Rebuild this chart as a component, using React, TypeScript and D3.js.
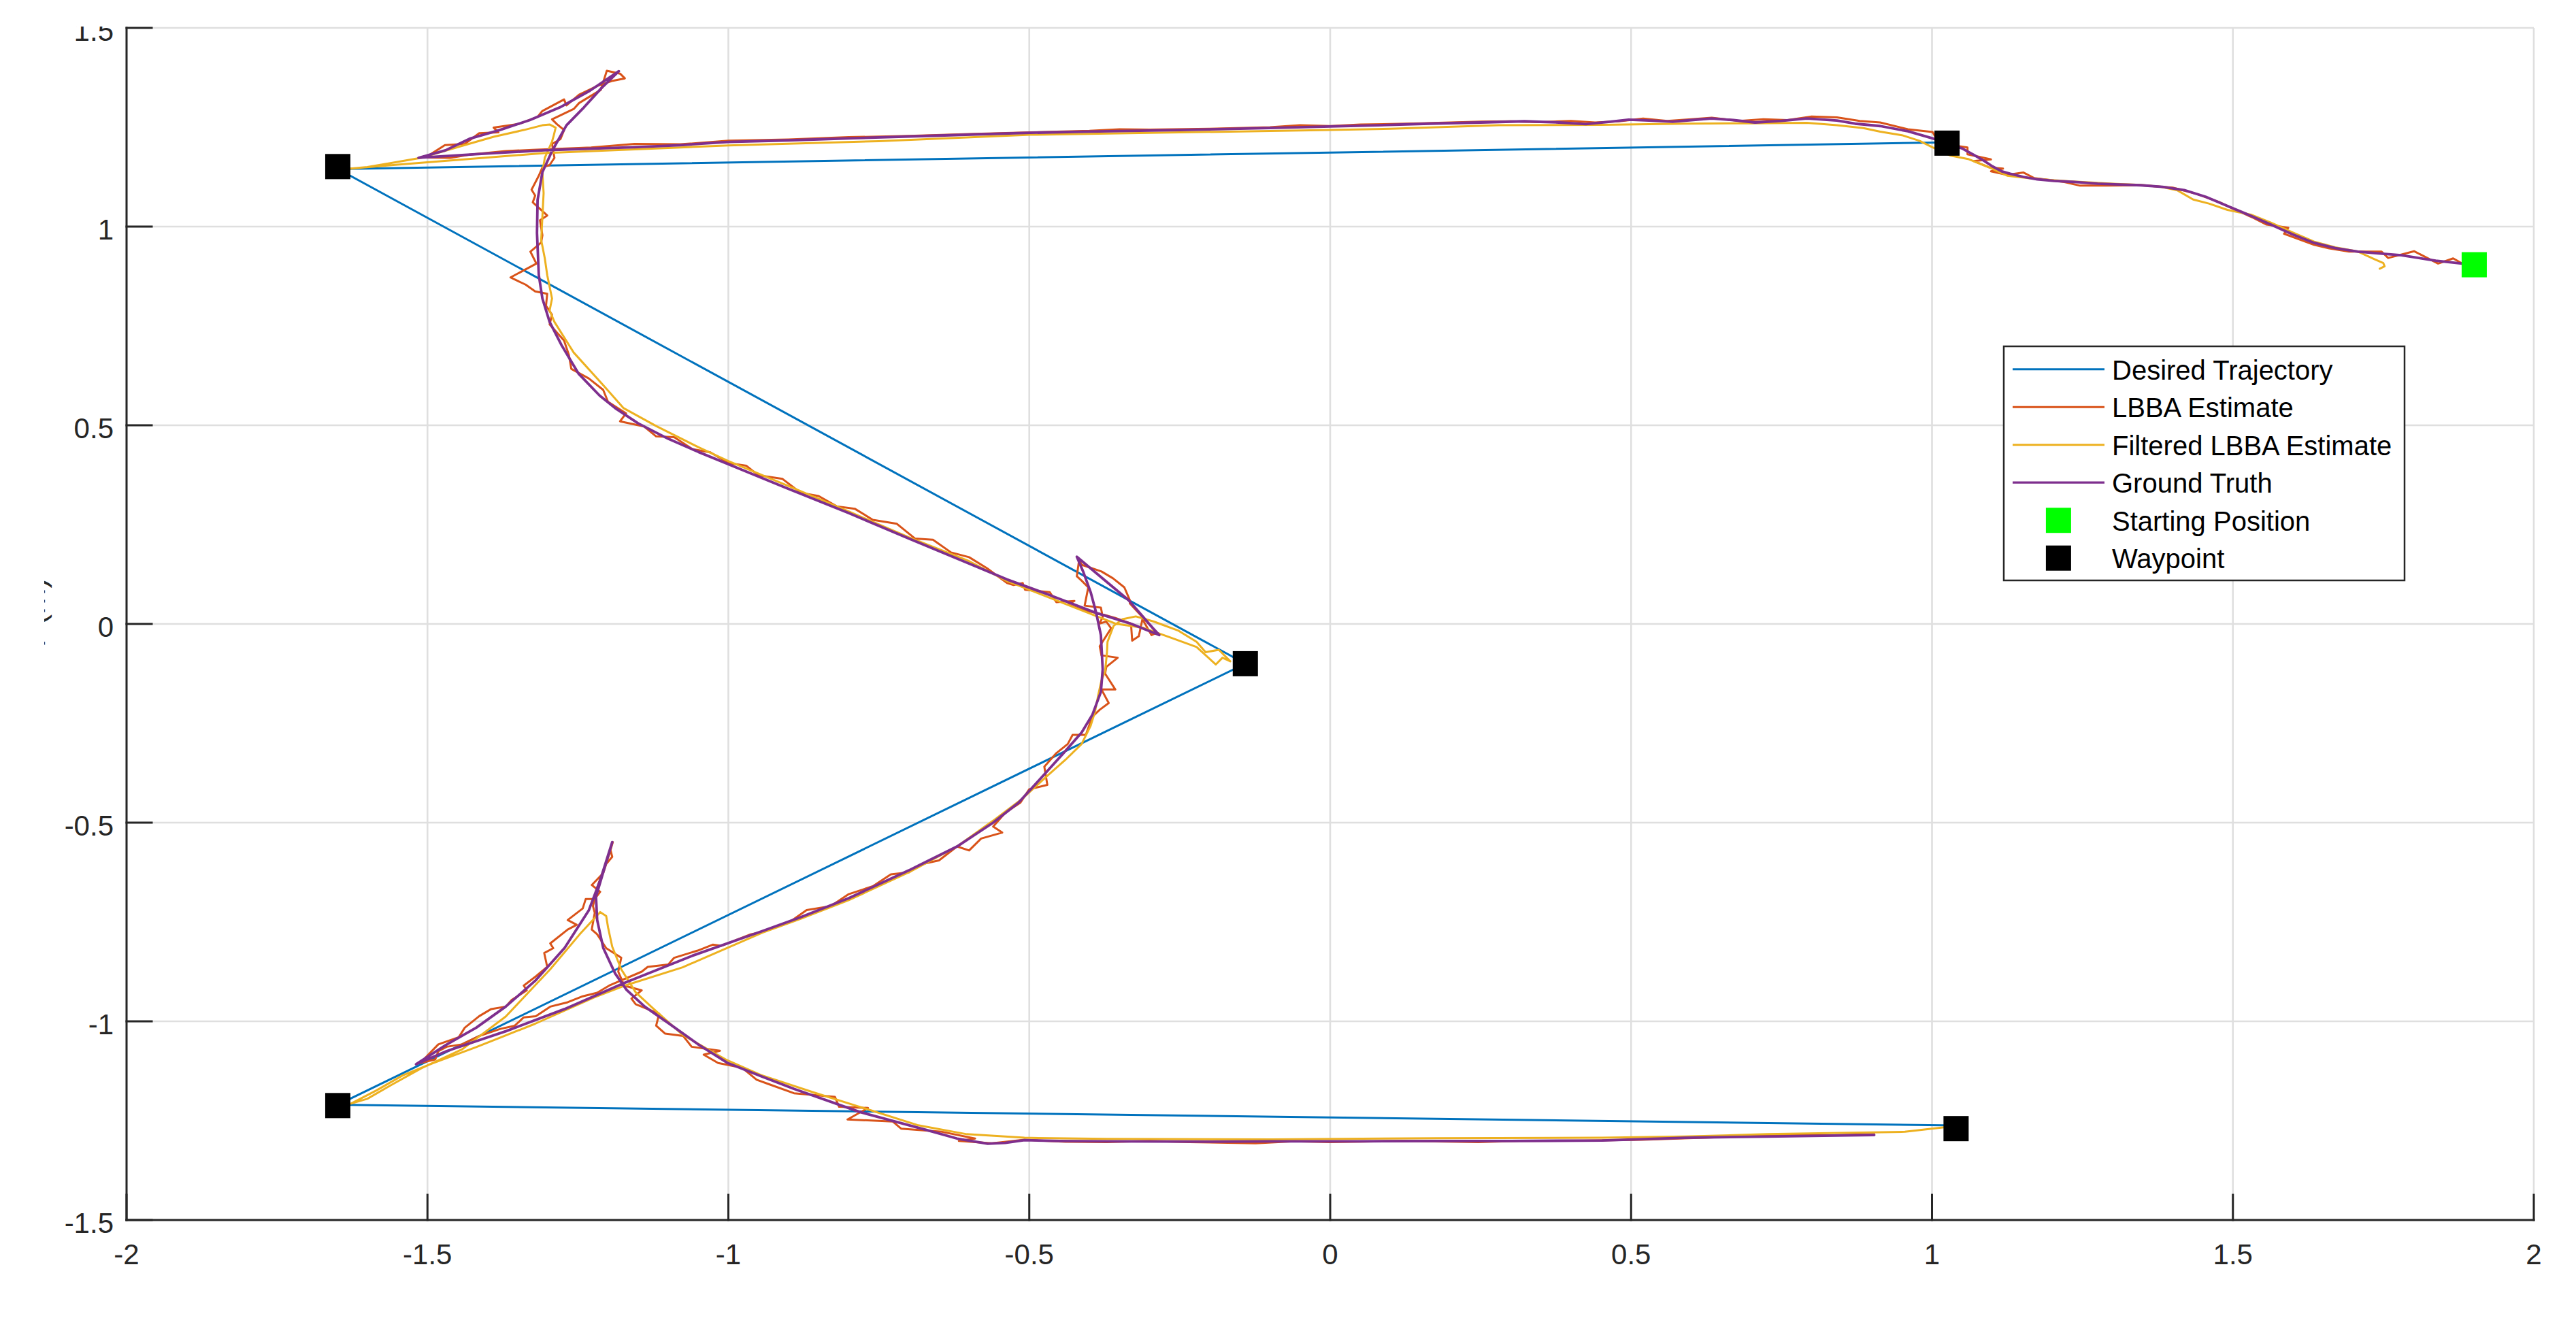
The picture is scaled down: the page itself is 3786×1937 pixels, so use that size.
import React from "react";
import * as d3 from "d3";

const W = 3786;
const H = 1937;

const xTicks = [-2, -1.5, -1, -0.5, 0, 0.5, 1, 1.5, 2];
const yTicks = [-1.5, -1, -0.5, 0, 0.5, 1, 1.5];
const yLabel = "Y (m)";

const legendLabels = [
  "Desired Trajectory",
  "LBBA Estimate",
  "Filtered LBBA Estimate",
  "Ground Truth",
  "Starting Position",
  "Waypoint",
];

const desiredTrajectory: [number, number][] = [
  [1.025, 1.212], [-1.649, 1.145], [-0.141, -0.1], [-1.649, -1.21], [1.04, -1.262],
];

const startPosition: [number, number][] = [[1.901, 0.904]];

const waypoints: [number, number][] = [
  [1.025, 1.21], [-1.649, 1.151], [-0.141, -0.1], [-1.649, -1.212], [1.04, -1.27],
];

const groundTruth: [number, number][] = [
  [1.9, 0.905], [1.881, 0.907], [1.837, 0.914], [1.78, 0.928], [1.745, 0.932], [1.708, 0.937],
  [1.67, 0.946], [1.635, 0.959], [1.6, 0.98], [1.563, 1.005], [1.53, 1.027], [1.491, 1.052],
  [1.455, 1.075], [1.419, 1.092], [1.383, 1.1], [1.347, 1.104], [1.311, 1.106], [1.275, 1.108],
  [1.24, 1.112], [1.203, 1.115], [1.175, 1.119], [1.152, 1.125], [1.13, 1.133], [1.116, 1.139],
  [1.1, 1.152], [1.087, 1.165], [1.07, 1.18], [1.051, 1.196], [1.025, 1.21], [1.001, 1.222],
  [0.96, 1.24], [0.914, 1.253], [0.872, 1.259], [0.842, 1.267], [0.792, 1.272], [0.75, 1.266],
  [0.706, 1.262], [0.67, 1.268], [0.634, 1.272], [0.6, 1.268], [0.569, 1.264], [0.53, 1.267],
  [0.496, 1.269], [0.46, 1.263], [0.425, 1.258], [0.38, 1.262], [0.323, 1.265], [0.25, 1.262],
  [0.165, 1.259], [0.08, 1.255], [0.0, 1.252], [-0.1, 1.248], [-0.25, 1.243], [-0.4, 1.239],
  [-0.498, 1.236], [-0.65, 1.229], [-0.8, 1.222], [-0.9, 1.217], [-1.0, 1.213], [-1.08, 1.205],
  [-1.15, 1.2], [-1.306, 1.192], [-1.42, 1.182], [-1.515, 1.173],
  [-1.47, 1.192], [-1.43, 1.221], [-1.38, 1.243], [-1.33, 1.268], [-1.28, 1.3], [-1.23, 1.342],
  [-1.182, 1.391], [-1.21, 1.35], [-1.24, 1.3], [-1.269, 1.255], [-1.293, 1.19], [-1.309, 1.137],
  [-1.317, 1.067], [-1.318, 0.984], [-1.315, 0.878], [-1.309, 0.819], [-1.297, 0.76], [-1.277, 0.701],
  [-1.249, 0.63], [-1.214, 0.575], [-1.188, 0.543], [-1.15, 0.505], [-1.1, 0.466], [-1.05, 0.433],
  [-1.0, 0.402], [-0.9, 0.34], [-0.8, 0.279], [-0.7, 0.215], [-0.6, 0.152], [-0.537, 0.112],
  [-0.47, 0.075], [-0.391, 0.029], [-0.33, 0.0], [-0.284, -0.028],
  [-0.295, -0.01], [-0.335, 0.06], [-0.38, 0.117], [-0.421, 0.169],
  [-0.41, 0.13], [-0.398, 0.08], [-0.389, 0.029], [-0.381, -0.028], [-0.378, -0.114], [-0.381, -0.171],
  [-0.395, -0.228], [-0.413, -0.273], [-0.443, -0.325], [-0.477, -0.382], [-0.518, -0.45],
  [-0.56, -0.5], [-0.62, -0.56], [-0.7, -0.62], [-0.8, -0.69], [-0.88, -0.738], [-0.944, -0.773],
  [-1.06, -0.835], [-1.174, -0.904], [-1.272, -0.969], [-1.37, -1.025], [-1.468, -1.075], [-1.519, -1.108],
  [-1.47, -1.06], [-1.419, -1.016], [-1.37, -0.963], [-1.321, -0.898], [-1.272, -0.815], [-1.232, -0.721],
  [-1.213, -0.645], [-1.193, -0.549],
  [-1.205, -0.61], [-1.22, -0.686], [-1.218, -0.745], [-1.208, -0.815], [-1.188, -0.88], [-1.169, -0.921],
  [-1.139, -0.963], [-1.1, -1.004], [-1.051, -1.057], [-1.001, -1.105], [-0.944, -1.139], [-0.891, -1.17],
  [-0.782, -1.228], [-0.672, -1.273], [-0.62, -1.295], [-0.569, -1.308], [-0.54, -1.306], [-0.508, -1.299],
  [-0.45, -1.301], [-0.371, -1.302], [-0.2, -1.303], [-0.097, -1.302], [0.05, -1.302], [0.178, -1.301],
  [0.3, -1.301], [0.452, -1.3], [0.589, -1.293], [0.726, -1.29], [0.82, -1.288], [0.904, -1.286],
];

const filteredEstimate: [number, number][] = [
  [1.744, 0.894], [1.752, 0.9], [1.75, 0.908], [1.735, 0.918], [1.708, 0.937], [1.67, 0.948],
  [1.635, 0.962], [1.6, 0.985], [1.563, 1.01], [1.53, 1.03], [1.491, 1.042], [1.46, 1.058],
  [1.434, 1.068], [1.408, 1.091], [1.38, 1.1], [1.347, 1.105], [1.3, 1.108], [1.24, 1.113],
  [1.2, 1.117], [1.16, 1.122], [1.125, 1.128], [1.095, 1.149], [1.06, 1.17], [1.03, 1.179],
  [1.0, 1.2], [0.979, 1.216], [0.95, 1.23], [0.914, 1.239], [0.886, 1.248], [0.842, 1.255],
  [0.792, 1.261], [0.7, 1.26], [0.589, 1.259], [0.45, 1.256], [0.28, 1.255], [0.1, 1.246],
  [0.0, 1.243], [-0.25, 1.237], [-0.498, 1.231], [-0.75, 1.215], [-1.0, 1.204], [-1.08, 1.199],
  [-1.306, 1.185], [-1.45, 1.168], [-1.55, 1.156], [-1.628, 1.146],
  [-1.6, 1.15], [-1.56, 1.16], [-1.511, 1.173], [-1.45, 1.2], [-1.39, 1.226], [-1.34, 1.243],
  [-1.309, 1.255], [-1.297, 1.257], [-1.287, 1.249], [-1.29, 1.23], [-1.293, 1.214], [-1.305, 1.173],
  [-1.309, 1.137], [-1.307, 1.084], [-1.309, 1.025], [-1.311, 0.966], [-1.305, 0.92], [-1.301, 0.878],
  [-1.293, 0.819], [-1.297, 0.789], [-1.289, 0.76], [-1.257, 0.683], [-1.208, 0.601], [-1.174, 0.543],
  [-1.12, 0.498], [-1.05, 0.445], [-1.0, 0.41], [-0.9, 0.347], [-0.8, 0.283], [-0.7, 0.218],
  [-0.6, 0.158], [-0.537, 0.108], [-0.424, 0.041], [-0.357, 0.001], [-0.31, -0.01], [-0.264, -0.035],
  [-0.222, -0.058], [-0.19, -0.102], [-0.179, -0.085], [-0.166, -0.094], [-0.185, -0.065], [-0.207, -0.071],
  [-0.222, -0.045], [-0.252, -0.017], [-0.293, 0.006], [-0.323, 0.019], [-0.345, 0.012], [-0.36, -0.005],
  [-0.37, -0.045], [-0.371, -0.074], [-0.374, -0.119], [-0.38, -0.142], [-0.385, -0.176], [-0.391, -0.222],
  [-0.398, -0.256], [-0.413, -0.302], [-0.44, -0.342], [-0.47, -0.382], [-0.511, -0.439],
  [-0.56, -0.495], [-0.62, -0.56], [-0.7, -0.625], [-0.8, -0.695], [-0.88, -0.742], [-0.944, -0.777],
  [-1.076, -0.864], [-1.174, -0.911], [-1.223, -0.94], [-1.321, -1.006], [-1.419, -1.065], [-1.492, -1.106],
  [-1.541, -1.136], [-1.585, -1.174], [-1.627, -1.207],
  [-1.6, -1.195], [-1.56, -1.16], [-1.51, -1.118], [-1.443, -1.071], [-1.37, -0.988], [-1.296, -0.869],
  [-1.247, -0.781], [-1.213, -0.725], [-1.203, -0.735], [-1.2, -0.763], [-1.193, -0.812], [-1.178, -0.869],
  [-1.154, -0.927], [-1.124, -0.969], [-1.076, -1.034], [-1.002, -1.098], [-0.946, -1.135], [-0.86, -1.178],
  [-0.782, -1.215], [-0.686, -1.261], [-0.604, -1.284], [-0.508, -1.293], [-0.371, -1.296], [-0.097, -1.297],
  [0.178, -1.294], [0.452, -1.293], [0.589, -1.29], [0.726, -1.284], [0.955, -1.278], [1.025, -1.266],
];

const lbbaEstimate: [number, number][] = [
  [1.9, 0.905], [1.882, 0.906], [1.866, 0.92], [1.841, 0.907], [1.801, 0.938], [1.758, 0.921],
  [1.747, 0.937], [1.693, 0.937], [1.66, 0.945], [1.635, 0.954], [1.585, 0.982], [1.592, 0.997],
  [1.556, 1.005], [1.534, 1.022], [1.5, 1.045], [1.477, 1.062], [1.44, 1.082], [1.4, 1.098],
  [1.347, 1.104], [1.29, 1.103], [1.246, 1.103], [1.22, 1.112], [1.197, 1.117], [1.17, 1.122],
  [1.152, 1.136], [1.125, 1.13], [1.098, 1.139], [1.118, 1.146], [1.095, 1.149], [1.069, 1.165],
  [1.098, 1.169], [1.059, 1.182], [1.059, 1.199], [1.046, 1.202], [1.008, 1.219], [1.001, 1.238],
  [0.96, 1.245], [0.914, 1.262], [0.88, 1.266], [0.842, 1.275], [0.8, 1.277], [0.76, 1.268],
  [0.72, 1.27], [0.68, 1.266], [0.634, 1.274], [0.6, 1.27], [0.56, 1.266], [0.52, 1.272],
  [0.48, 1.265], [0.44, 1.262], [0.4, 1.266], [0.35, 1.263], [0.3, 1.265], [0.25, 1.264],
  [0.2, 1.262], [0.15, 1.26], [0.1, 1.258], [0.05, 1.257], [0.0, 1.253], [-0.05, 1.255],
  [-0.1, 1.25], [-0.2, 1.246], [-0.3, 1.244], [-0.35, 1.245], [-0.4, 1.241], [-0.498, 1.237],
  [-0.6, 1.233], [-0.7, 1.228], [-0.8, 1.225], [-0.9, 1.219], [-1.0, 1.216], [-1.08, 1.207],
  [-1.156, 1.208], [-1.228, 1.199], [-1.325, 1.193], [-1.37, 1.19], [-1.43, 1.181], [-1.462, 1.173],
  [-1.503, 1.174],
  [-1.471, 1.205], [-1.438, 1.208], [-1.414, 1.235], [-1.382, 1.237], [-1.39, 1.249], [-1.349, 1.258],
  [-1.317, 1.276], [-1.309, 1.291], [-1.273, 1.32], [-1.269, 1.305], [-1.248, 1.332], [-1.216, 1.355],
  [-1.192, 1.367], [-1.172, 1.373], [-1.18, 1.385], [-1.202, 1.392],
  [-1.212, 1.344], [-1.248, 1.311], [-1.257, 1.296], [-1.293, 1.27], [-1.285, 1.258], [-1.273, 1.243],
  [-1.279, 1.22], [-1.293, 1.208], [-1.289, 1.173], [-1.297, 1.155], [-1.309, 1.149], [-1.315, 1.128],
  [-1.327, 1.093], [-1.321, 1.078], [-1.325, 1.061], [-1.301, 1.028], [-1.313, 1.016], [-1.309, 0.978],
  [-1.311, 0.96], [-1.329, 0.937], [-1.319, 0.907], [-1.362, 0.872], [-1.337, 0.854], [-1.321, 0.837],
  [-1.301, 0.831], [-1.303, 0.801], [-1.293, 0.778], [-1.297, 0.754], [-1.273, 0.713], [-1.265, 0.677],
  [-1.261, 0.642], [-1.232, 0.618], [-1.208, 0.589], [-1.2, 0.559],
  [-1.17, 0.53], [-1.18, 0.51], [-1.14, 0.497], [-1.12, 0.472], [-1.09, 0.47], [-1.06, 0.44],
  [-1.03, 0.432], [-1.0, 0.405], [-0.97, 0.398], [-0.95, 0.374], [-0.91, 0.365], [-0.88, 0.33],
  [-0.85, 0.322], [-0.82, 0.296], [-0.79, 0.29], [-0.76, 0.262], [-0.72, 0.252], [-0.69, 0.215],
  [-0.66, 0.212], [-0.63, 0.18], [-0.6, 0.168], [-0.57, 0.14], [-0.537, 0.103], [-0.526, 0.098],
  [-0.511, 0.103], [-0.507, 0.086], [-0.466, 0.08], [-0.455, 0.055], [-0.425, 0.058], [-0.436, 0.049],
  [-0.41, 0.035], [-0.376, 0.023], [-0.357, 0.015], [-0.331, 0.001], [-0.329, -0.042], [-0.318, -0.031],
  [-0.312, 0.012], [-0.297, -0.028], [-0.288, -0.022], [-0.305, 0.006], [-0.333, 0.052], [-0.333, 0.06],
  [-0.342, 0.092], [-0.361, 0.115], [-0.38, 0.132], [-0.413, 0.149], [-0.417, 0.163], [-0.421, 0.12],
  [-0.413, 0.109], [-0.402, 0.092], [-0.408, 0.046], [-0.381, 0.041], [-0.378, 0.018], [-0.383, 0.001],
  [-0.372, 0.006], [-0.364, -0.011], [-0.383, -0.056], [-0.38, -0.079], [-0.353, -0.085], [-0.372, -0.108],
  [-0.374, -0.125], [-0.357, -0.165], [-0.38, -0.165], [-0.368, -0.199], [-0.383, -0.216], [-0.395, -0.233],
  [-0.406, -0.279], [-0.428, -0.279], [-0.436, -0.302], [-0.455, -0.325], [-0.475, -0.359], [-0.47, -0.405],
  [-0.5, -0.416], [-0.515, -0.45],
  [-0.54, -0.475], [-0.56, -0.51], [-0.545, -0.525], [-0.58, -0.54], [-0.6, -0.57], [-0.62, -0.56],
  [-0.65, -0.595], [-0.68, -0.605], [-0.7, -0.625], [-0.73, -0.63], [-0.76, -0.66], [-0.8, -0.68],
  [-0.83, -0.71], [-0.87, -0.72], [-0.9, -0.752], [-0.944, -0.775], [-0.963, -0.781], [-1.012, -0.81],
  [-1.026, -0.807], [-1.051, -0.822], [-1.09, -0.84], [-1.1, -0.857], [-1.134, -0.863], [-1.144, -0.875],
  [-1.198, -0.91], [-1.218, -0.928], [-1.242, -0.937], [-1.267, -0.952], [-1.296, -0.963], [-1.32, -0.987],
  [-1.34, -0.99], [-1.355, -1.011], [-1.379, -1.019], [-1.414, -1.037], [-1.443, -1.058], [-1.468, -1.064],
  [-1.482, -1.075], [-1.487, -1.096], [-1.512, -1.105],
  [-1.482, -1.058], [-1.448, -1.04], [-1.438, -1.016], [-1.414, -0.987], [-1.394, -0.969], [-1.37, -0.963],
  [-1.36, -0.946], [-1.335, -0.922], [-1.34, -0.91], [-1.32, -0.887], [-1.301, -0.863], [-1.306, -0.828],
  [-1.291, -0.816], [-1.296, -0.804], [-1.267, -0.769], [-1.252, -0.757], [-1.267, -0.745], [-1.242, -0.716],
  [-1.237, -0.692], [-1.222, -0.692], [-1.213, -0.674], [-1.227, -0.657], [-1.208, -0.627], [-1.203, -0.604],
  [-1.193, -0.586], [-1.196, -0.568], [-1.192, -0.549],
  [-1.198, -0.58], [-1.208, -0.621], [-1.218, -0.663], [-1.225, -0.71], [-1.222, -0.727], [-1.227, -0.769],
  [-1.218, -0.781], [-1.203, -0.816], [-1.178, -0.84], [-1.183, -0.875], [-1.173, -0.91], [-1.144, -0.922],
  [-1.161, -0.943], [-1.154, -0.957], [-1.115, -0.981], [-1.12, -1.011], [-1.105, -1.031], [-1.075, -1.037],
  [-1.061, -1.064], [-1.014, -1.074], [-1.041, -1.084], [-1.017, -1.105], [-0.977, -1.117], [-0.953, -1.147],
  [-0.933, -1.158], [-0.891, -1.181], [-0.823, -1.19], [-0.816, -1.215], [-0.768, -1.218], [-0.802, -1.247],
  [-0.727, -1.252], [-0.713, -1.27], [-0.645, -1.278], [-0.59, -1.295], [-0.617, -1.301], [-0.562, -1.307],
  [-0.508, -1.298], [-0.44, -1.303], [-0.371, -1.304], [-0.3, -1.301], [-0.234, -1.304], [-0.124, -1.307],
  [-0.06, -1.302], [-0.001, -1.304], [0.12, -1.301], [0.246, -1.304], [0.315, -1.301], [0.42, -1.3],
  [0.52, -1.298], [0.62, -1.293], [0.726, -1.287], [0.835, -1.287], [0.904, -1.284],
];

const COLORS = {
  desired: "#0072BD",
  lbba: "#D95319",
  filtered: "#EDB120",
  truth: "#7E2F8E",
  start: "#00FF00",
  waypoint: "#000000",
};

const FONT = "'Liberation Sans', Arial, Helvetica, sans-serif";
const AXIS = "#262626";
const GRID = "#dfdfdf";

export default function App() {
  const x = d3.scaleLinear().domain([-2, 2]).range([186, 3724]);
  const y = d3.scaleLinear().domain([-1.5, 1.5]).range([1793, 41]);
  const line = d3
    .line<[number, number]>()
    .x((d) => x(d[0]))
    .y((d) => y(d[1]));

  const x0 = x(-2);
  const x1 = x(2);
  const y0 = y(-1.5);
  const y1 = y(1.5);
  const tickLen = 37;
  const mk = 37;

  // legend layout
  const lgX = 2945;
  const lgY = 509;
  const lgW = 589;
  const lgH = 344;
  const rowY = (i: number) => 542.7 + i * 55.5;
  const legendItems = [
    { type: "line", color: COLORS.desired, w: 3 },
    { type: "line", color: COLORS.lbba, w: 3 },
    { type: "line", color: COLORS.filtered, w: 3 },
    { type: "line", color: COLORS.truth, w: 3.3 },
    { type: "square", color: COLORS.start },
    { type: "square", color: COLORS.waypoint },
  ];

  return (
    <svg
      width={W}
      height={H}
      viewBox={`0 0 ${W} ${H}`}
      style={{ position: "absolute", left: 0, top: 0, background: "#fff" }}
      fontFamily={FONT}
    >
      <defs>
        <clipPath id="figClip">
          <rect x={65} y={39} width={W - 65} height={H - 39} />
        </clipPath>
        <clipPath id="plotClip">
          <rect x={x0} y={y1} width={x1 - x0} height={y0 - y1} />
        </clipPath>
      </defs>
      <rect x={0} y={0} width={W} height={H} fill="#fff" />
      <g clipPath="url(#figClip)">
        {/* grid */}
        <g stroke={GRID} strokeWidth={2.6}>
          {xTicks.map((t) => (
            <line key={"gx" + t} x1={x(t)} x2={x(t)} y1={y0} y2={y1} />
          ))}
          {yTicks.map((t) => (
            <line key={"gy" + t} x1={x0} x2={x1} y1={y(t)} y2={y(t)} />
          ))}
        </g>

        {/* data */}
        <g clipPath="url(#plotClip)" fill="none" strokeLinejoin="round" strokeLinecap="round">
          <path d={line(desiredTrajectory) || ""} stroke={COLORS.desired} strokeWidth={3} />
          <path d={line(lbbaEstimate) || ""} stroke={COLORS.lbba} strokeWidth={3} />
          <path d={line(filteredEstimate) || ""} stroke={COLORS.filtered} strokeWidth={3} />
          <path d={line(groundTruth) || ""} stroke={COLORS.truth} strokeWidth={3.8} />
        </g>
        {startPosition.map((p, i) => (
          <rect key={"s" + i} x={x(p[0]) - mk / 2} y={y(p[1]) - mk / 2} width={mk} height={mk} fill={COLORS.start} />
        ))}
        {waypoints.map((p, i) => (
          <rect key={"w" + i} x={x(p[0]) - mk / 2} y={y(p[1]) - mk / 2} width={mk} height={mk} fill={COLORS.waypoint} />
        ))}

        {/* axes */}
        <g stroke={AXIS} strokeWidth={3} strokeLinecap="square">
          <line x1={x0} x2={x0} y1={y0} y2={y1} />
          <line x1={x0} x2={x1} y1={y0} y2={y0} />
          {xTicks.map((t) => (
            <line key={"tx" + t} x1={x(t)} x2={x(t)} y1={y0} y2={y0 - tickLen} />
          ))}
          {yTicks.map((t) => (
            <line key={"ty" + t} x1={x0} x2={x0 + tickLen} y1={y(t)} y2={y(t)} />
          ))}
        </g>
        <g fill={AXIS} fontSize={42}>
          {xTicks.map((t) => (
            <text key={"lx" + t} x={x(t)} y={y0 + 65} textAnchor="middle">
              {String(t)}
            </text>
          ))}
          {yTicks.map((t) => (
            <text key={"ly" + t} x={167} y={y(t) + 19} textAnchor="end">
              {String(t)}
            </text>
          ))}
        </g>
        <text
          transform={`translate(66, 905) rotate(-90)`}
          textAnchor="middle"
          fontSize={46}
          fill={AXIS}
        >
          {yLabel}
        </text>

        {/* legend */}
        <rect x={lgX} y={lgY} width={lgW} height={lgH} fill="#fff" stroke={AXIS} strokeWidth={2.5} />
        {legendItems.map((it, i) => (
          <g key={"lg" + i}>
            {it.type === "line" ? (
              <line x1={2958} x2={3093} y1={rowY(i)} y2={rowY(i)} stroke={it.color} strokeWidth={it.w} />
            ) : (
              <rect x={3025.4 - mk / 2} y={rowY(i) - mk / 2} width={mk} height={mk} fill={it.color} />
            )}
            <text x={3104} y={rowY(i) + 15} fontSize={40} fill="#000">
              {legendLabels[i]}
            </text>
          </g>
        ))}
      </g>
    </svg>
  );
}
